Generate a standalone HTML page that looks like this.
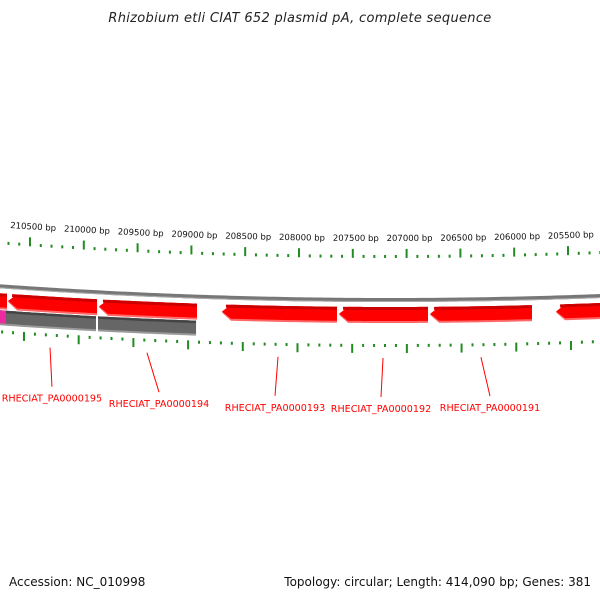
<!DOCTYPE html>
<html><head><meta charset="utf-8"><style>
html,body{margin:0;padding:0;background:#fff}
svg{display:block}
text{font-family:"DejaVu Sans","Liberation Sans",sans-serif}
</style></head><body>
<svg id="chart" width="600" height="600" viewBox="0 0 600 600" xmlns="http://www.w3.org/2000/svg">
<text x="300" y="22" text-anchor="middle" font-size="13" font-style="italic" fill="#222" letter-spacing="0.3">Rhizobium etli CIAT 652 plasmid pA, complete sequence</text>
<g id="ticks-top"></g>
<g id="scale-labels"></g>
<g id="backbone"></g>
<g id="genes"></g>
<g id="ticks-bot"></g>
<g id="loci"></g>
<text x="9" y="586" font-size="12" fill="#111">Accession: NC_010998</text>
<text x="591" y="586" text-anchor="end" font-size="12" fill="#111">Topology: circular; Length: 414,090 bp; Genes: 381</text>
</svg>
<script>
// data (bp)
const geneStarts = [211151, 210704, 209859, 208716, 207628, 206782, 205611];
const geneEnds   = [210714, 209877, 208948, 207647, 206801, 205835, 204831];
const grayStarts = [210779, 209868];
const grayEnds   = [209887, 208957];
const pinkStarts = [210779];
const pinkEnds   = [210723];
const locusNames = ["RHECIAT_PA0000195","RHECIAT_PA0000194","RHECIAT_PA0000193","RHECIAT_PA0000192","RHECIAT_PA0000191"];
const locusBp     = [210314, 209413, 208195, 207219, 206309];
const locusTextBp = [210296, 209301, 208223, 207238, 206225];
const tickMin = 204500, tickMax = 211200, tickStep = 100, majorStep = 500;

const NS = "http://www.w3.org/2000/svg";
const K = 0.9e-4, XC = 390;
function xOf(bp){ return 30 + (210500 - bp) * 0.1076; }
function yOf(x, base){ return base - K * (x - XC) * (x - XC); }
function mk(tag, attrs, parent){ const e = document.createElementNS(NS, tag); for (const k in attrs) e.setAttribute(k, attrs[k]); parent.appendChild(e); return e; }

// ticks
const gt = document.getElementById('ticks-top'), gb = document.getElementById('ticks-bot'), gl = document.getElementById('scale-labels');
for (let bp = tickMin; bp <= tickMax; bp += tickStep) {
  const x = xOf(bp);
  const major = bp % majorStep === 0;
  const xb = x + (x - XC) * 0.0167;
  const yt = yOf(x, 257), yb = yOf(xb, 346);
  if (x > -5 && x < 605) {
    const t1 = mk('rect', major ? {x:x-1, y:yt-8, width:2, height:9, fill:'#228b22'} : {x:x-1, y:yt-2, width:2, height:3, fill:'#228b22'}, gt);
    
    
  }
  if (xb > -5 && xb < 605) {
    const t2 = mk('rect', major ? {x:xb-1, y:yb-2, width:2, height:9, fill:'#228b22'} : {x:xb-1, y:yb-2, width:2, height:3, fill:'#228b22'}, gb);
    
    
  }
  if (major && x > -20 && x < 620) {
    const lx = x + 3;
    const ang = Math.atan(2 * K * (XC - lx)) * 180 / Math.PI;
    const ly = yOf(lx, 241);
    const lt = mk('text', {x:lx, y:ly, 'text-anchor':'middle', 'font-size':'8.5', fill:'#111', transform:`rotate(${ang.toFixed(2)} ${lx} ${ly})`}, gl);
    lt.textContent = bp + ' bp';
    
    
  }
}

// backbone
const bb = document.getElementById('backbone');
let pts = [];
for (let x = -5; x <= 605; x += 5) pts.push(x + ',' + yOf(x, 300).toFixed(2));
const bl = mk('polyline', {points: pts.join(' '), fill:'none', stroke:'#777', 'stroke-width':'4'}, bb);


pts = [];
for (let x = -5; x <= 605; x += 5) pts.push(x + ',' + yOf(x, 301.5).toFixed(2));
mk('polyline', {points: pts.join(' '), fill:'none', stroke:'#aaa', 'stroke-width':'1'}, bb);

// band polygon along curve
function band(x1, x2, top, h, arrow){
  const p = [], q = [];
  const head = arrow ? 9 : 0;
  const xs = x1 + head;
  for (let i = 0; i <= 20; i++) { const x = xs + (x2 - xs) * i / 20; p.push([x, yOf(x, top)]); q.unshift([x, yOf(x, top) + h]); }
  const res = [...p, ...q];
  if (arrow) res.push([x1, yOf(x1, top) + h / 2]);
  return res.map(a => a[0].toFixed(2) + ',' + a[1].toFixed(2)).join(' ');
}
const gg = document.getElementById('genes');
for (let i = 0; i < geneStarts.length; i++) {
  const x1 = xOf(geneStarts[i]), x2 = xOf(geneEnds[i]);
  const g = mk('g', {}, gg);
  
  
  mk('polygon', {points: band(x1, x2, 307, 16, true), fill:'#ff6666'}, g);
  mk('polygon', {points: band(x1, x2, 307, 14, true), fill:'#ff0000'}, g);
  mk('polygon', {points: band(x1 + 4, x2, 307, 3, false), fill:'#cc0000'}, g);
}
for (let i = 0; i < grayStarts.length; i++) {
  const x1 = xOf(grayStarts[i]), x2 = xOf(grayEnds[i]);
  const g = mk('g', {}, gg);
  
  
  mk('polygon', {points: band(x1, x2, 324, 15, false), fill:'#999'}, g);
  mk('polygon', {points: band(x1, x2, 324, 13, false), fill:'#666'}, g);
  mk('polygon', {points: band(x1, x2, 324, 2.5, false), fill:'#444'}, g);
}
for (let i = 0; i < pinkStarts.length; i++) {
  const x1 = xOf(pinkStarts[i]), x2 = xOf(pinkEnds[i]);
  const p = mk('polygon', {points: band(x1, x2, 324, 13, false), fill:'#ee2aa0'}, gg);
  
  
}

// locus labels
const gL = document.getElementById('loci');
for (let i = 0; i < locusNames.length; i++) {
  const x1 = xOf(locusBp[i]), x2 = xOf(locusTextBp[i]);
  const ln = mk('line', {x1:x1, y1:yOf(x1, 358), x2:x2, y2:yOf(x2, 397), stroke:'#ff0000', 'stroke-width':'1'}, gL);
  
  
  const t = mk('text', {x:x2, y:yOf(x2, 412), 'text-anchor':'middle', 'font-size':'9.6', fill:'#ff0000'}, gL);
  t.textContent = locusNames[i];
  
  
}
</script>
</body></html>
